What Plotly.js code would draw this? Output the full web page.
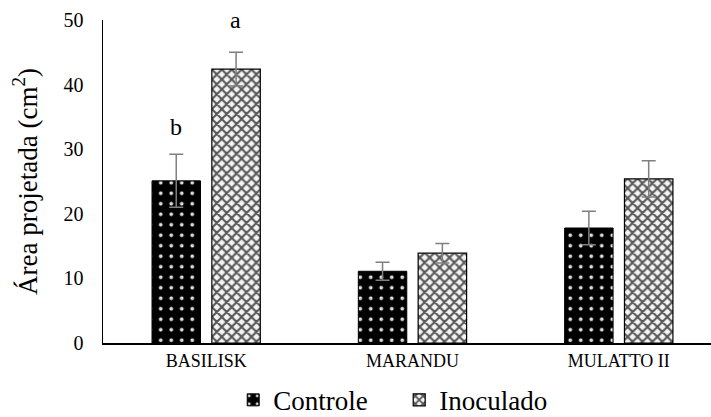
<!DOCTYPE html>
<html><head><meta charset="utf-8">
<script src="https://cdn.plot.ly/plotly-3.0.1.min.js"></script>
<style>html,body{margin:0;padding:0;background:#fff}</style>
</head><body>
<div id="chart" style="width:711px;height:417px"></div>
<script>
const categories = ["BASILISK", "MARANDU", "MULATTO II"];
const controle = [25.1, 11.1, 17.8];
const controleErr = [4.1, 1.4, 2.6];
const inoculado = [42.4, 13.9, 25.4];
const inoculadoErr = [2.6, 1.5, 2.8];
const letters = [{cat: "BASILISK", series: 0, y: 33.4, text: "b"}, {cat: "BASILISK", series: 1, y: 50, text: "a"}];
const yTicks = [0, 10, 20, 30, 40, 50];

const font = "Liberation Serif";
const errStyle = {type: "data", visible: true, color: "#7f7f7f", thickness: 1.5, width: 7};

const traces = [
  {type: "bar", name: "Controle", x: categories, y: controle,
   error_y: Object.assign({array: controleErr}, errStyle),
   marker: {color: "black", line: {color: "black", width: 1},
            pattern: {shape: ".", fgcolor: "#dddddd", bgcolor: "black", size: 10.5, solidity: 0.1}}},
  {type: "bar", name: "Inoculado", x: categories, y: inoculado,
   error_y: Object.assign({array: inoculadoErr}, errStyle),
   marker: {color: "white", line: {color: "black", width: 1.2},
            pattern: {shape: "x", fgcolor: "#555555", bgcolor: "#f4f4f4", size: 7, solidity: 0.5}}}
];

const annotations = letters.map(l => ({
  x: l.cat, y: l.y, xref: "x", yref: "y", text: l.text, showarrow: false,
  xshift: l.series === 0 ? -29.7 : 29.7, font: {family: font, size: 24, color: "black"}
}));

const layout = {
  width: 711, height: 417,
  margin: {l: 103, r: 0, t: 20, b: 74},
  paper_bgcolor: "white", plot_bgcolor: "white",
  barmode: "group", bargap: 0.42, bargroupgap: 0.19,
  font: {family: font, color: "black"},
  showlegend: true,
  legend: {orientation: "h", x: 0.328, xanchor: "left", xref: "container", y: 0.04, yanchor: "middle", yref: "container",
           font: {family: font, size: 27, color: "black"}, itemwidth: 30, tracegroupgap: 0,
           entrywidth: 121, entrywidthmode: "pixels"},
  xaxis: {type: "category", range: [-0.5, 2.447], showline: true, linecolor: "black", linewidth: 2,
          ticks: "", tickfont: {family: font, size: 18, color: "black"}, showgrid: false, zeroline: false},
  yaxis: {range: [0, 50], tickvals: yTicks, showline: true, linecolor: "black", linewidth: 1.5,
          ticks: "", showgrid: false, zeroline: false, ticklabelstandoff: 14,
          tickfont: {family: font, size: 20, color: "black"},
          title: {text: "Área projetada (cm<sup>2</sup>)", font: {family: font, size: 27, color: "black"}, standoff: 18}},
  annotations: annotations
};

Plotly.newPlot("chart", traces, layout, {displayModeBar: false, staticPlot: true});
</script>
</body></html>
